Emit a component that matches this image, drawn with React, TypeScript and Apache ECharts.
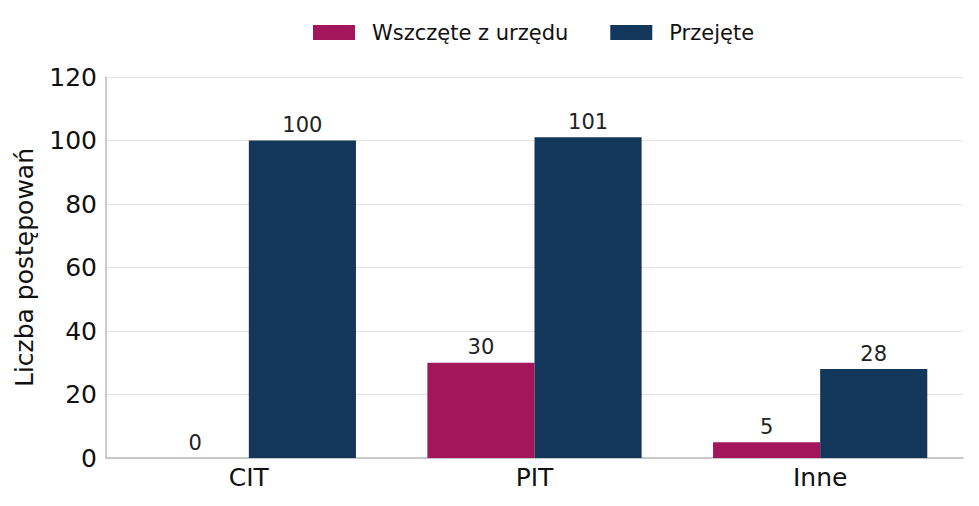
import React, { useEffect, useRef } from "react";
import * as echarts from "echarts";

const categories = ["CIT", "PIT", "Inne"];
const seriesNames = ["Wszczęte z urzędu", "Przejęte"];
const wszczeteValues = [0, 30, 5];
const przejeteValues = [100, 101, 28];
const colors = ["#A3165C", "#13375A"];

const FONT = "DejaVu Sans";

export default function App() {
  const ref = useRef<HTMLDivElement>(null);
  useEffect(() => {
    if (!ref.current) return;
    const chart = echarts.init(ref.current, null, { renderer: "svg" });
    const labelStyle = {
      show: true,
      position: "top" as const,
      distance: 5,
      fontFamily: FONT,
      fontSize: 21,
      color: "#222222",
    };
    chart.setOption({
      animation: false,
      textStyle: { fontFamily: FONT },
      legend: {
        top: 17,
        left: 308,
        itemWidth: 42,
        itemHeight: 15,
        itemGap: 42,
        icon: "rect",
        textStyle: { fontFamily: FONT, fontSize: 21, color: "#111111", padding: [0, 0, 0, 12] },
        data: seriesNames,
      },
      grid: { left: 106, right: 16, top: 77, bottom: 48, containLabel: false },
      xAxis: {
        type: "category",
        data: categories,
        axisLine: { show: true, lineStyle: { color: "#bbbbbb", width: 1.5 } },
        axisTick: { show: false },
        axisLabel: { fontFamily: FONT, fontSize: 25, color: "#111111", margin: 7 },
      },
      yAxis: {
        type: "value",
        min: 0,
        max: 120,
        interval: 20,
        name: "Liczba postępowań",
        nameLocation: "middle",
        nameGap: 69,
        nameTextStyle: { fontFamily: FONT, fontSize: 25, color: "#111111" },
        axisLine: { show: true, lineStyle: { color: "#bbbbbb", width: 1.5 } },
        axisTick: { show: false },
        axisLabel: { fontFamily: FONT, fontSize: 25, color: "#111111", margin: 9 },
        splitLine: { show: true, lineStyle: { color: "#e3e3e3", width: 1.2 } },
      },
      series: [
        {
          name: seriesNames[0],
          type: "bar",
          data: wszczeteValues,
          itemStyle: { color: colors[0] },
          barGap: "0%",
          barCategoryGap: "25%",
          label: labelStyle,
        },
        {
          name: seriesNames[1],
          type: "bar",
          data: przejeteValues,
          itemStyle: { color: colors[1] },
          barGap: "0%",
          barCategoryGap: "25%",
          label: labelStyle,
        },
      ],
    });
    return () => chart.dispose();
  }, []);
  return <div ref={ref} style={{ width: 979, height: 506, position: "absolute", left: 0, top: 0 }} />;
}
